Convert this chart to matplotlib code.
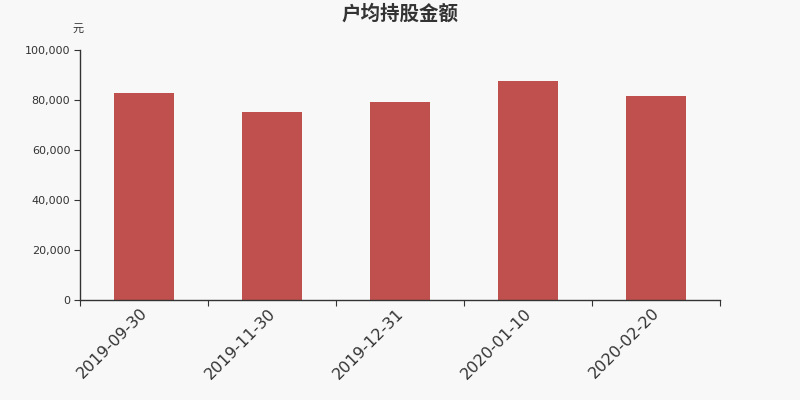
import matplotlib
matplotlib.use("Agg")
import matplotlib.pyplot as plt
import matplotlib.transforms as mtransforms

plt.rcParams['font.family'] = ['Noto Sans CJK SC', 'DejaVu Sans']

categories = ["2019-09-30", "2019-11-30", "2019-12-31", "2020-01-10", "2020-02-20"]
values = [82800, 75200, 79200, 87600, 81600]
yticks = [0, 20000, 40000, 60000, 80000, 100000]
ytick_labels = ["0", "20,000", "40,000", "60,000", "80,000", "100,000"]

bg = "#f8f8f8"
fig = plt.figure(figsize=(8, 4), dpi=100, facecolor=bg)
ax = fig.add_axes([0.1, 0.25, 0.8, 0.625], facecolor=bg)

x = list(range(len(categories)))
ax.bar(x, values, width=0.47, color="#c0504d", edgecolor="none", zorder=2)

ax.set_xlim(-0.5, len(categories) - 0.5)
ax.set_ylim(0, 100000)
ax.set_yticks(yticks)
ax.set_yticklabels(ytick_labels, fontsize=8, color="#333333", family=['DejaVu Sans'])

ax.set_xticks([i - 0.5 for i in range(len(categories) + 1)])
ax.set_xticklabels([""] * (len(categories) + 1))
ax.set_xticks(x, minor=True)
ax.set_xticklabels(categories, minor=True, rotation=45, ha="right",
                   rotation_mode="anchor", fontsize=11.5, color="#333333",
                   family=['DejaVu Sans'])
ax.tick_params(axis="x", which="minor", length=0, pad=4)
ax.tick_params(axis="x", which="major", length=4, color="#333333", direction="out")
ax.tick_params(axis="y", length=4, color="#333333", direction="out", pad=3)

offset = mtransforms.ScaledTranslation(-4 / 100, 0, fig.dpi_scale_trans)
for lbl in ax.get_xticklabels(minor=True):
    lbl.set_transform(lbl.get_transform() + offset)

for s in ["top", "right"]:
    ax.spines[s].set_visible(False)
for s in ["left", "bottom"]:
    ax.spines[s].set_color("#333333")
    ax.spines[s].set_linewidth(1)

fig.text(0.5, 0.965, "户均持股金额", ha="center", va="center", fontsize=14,
         fontweight="bold", color="#333333")
fig.text(0.098, 0.928, "元", ha="center", va="center", fontsize=8, color="#333333")

fig.savefig("out.png", dpi=100, facecolor=bg)
